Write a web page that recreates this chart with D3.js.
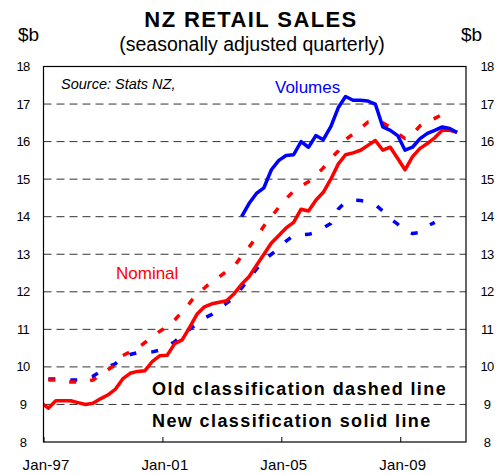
<!DOCTYPE html>
<html>
<head>
<meta charset="utf-8">
<script src="https://cdn.jsdelivr.net/npm/d3@7"></script>
<style>
  body { margin: 0; background: #fff; }
  text { font-family: "Liberation Sans", Arial, sans-serif; }
</style>
</head>
<body>
<div id="wrapper"></div>
<script>
// quarterly observations (end of quarter)
const quarters = [
  "Dec-96",
  "Mar-97", "Jun-97", "Sep-97", "Dec-97",
  "Mar-98", "Jun-98", "Sep-98", "Dec-98",
  "Mar-99", "Jun-99", "Sep-99", "Dec-99",
  "Mar-00", "Jun-00", "Sep-00", "Dec-00",
  "Mar-01", "Jun-01", "Sep-01", "Dec-01",
  "Mar-02", "Jun-02", "Sep-02", "Dec-02",
  "Mar-03", "Jun-03", "Sep-03", "Dec-03",
  "Mar-04", "Jun-04", "Sep-04", "Dec-04",
  "Mar-05", "Jun-05", "Sep-05", "Dec-05",
  "Mar-06", "Jun-06", "Sep-06", "Dec-06",
  "Mar-07", "Jun-07", "Sep-07", "Dec-07",
  "Mar-08", "Jun-08", "Sep-08", "Dec-08",
  "Mar-09", "Jun-09", "Sep-09", "Dec-09",
  "Mar-10", "Jun-10", "Sep-10", "Dec-10"
]

// new classification, nominal ($b)
const nominalNew = [
  9.05,
  8.9, 9.1, 9.1, 9.1,
  9.05, 9.0, 9.03, 9.15,
  9.25, 9.4, 9.68, 9.83,
  9.88, 9.9, 10.15, 10.3,
  10.31, 10.62, 10.72, 11.05,
  11.4, 11.6, 11.68, 11.72,
  11.76, 11.95, 12.2, 12.4,
  12.7, 13.0, 13.3, 13.5,
  13.7, 13.85, 14.2, 14.15,
  14.44, 14.65, 15.0, 15.4,
  15.65, 15.7, 15.77, 15.9,
  16.03, 15.77, 15.85, 15.55,
  15.25, 15.6, 15.82, 15.95,
  16.1, 16.3, 16.3, 16.25
]

// new classification, volumes ($b)
const volumesNew = [
  null,
  null, null, null, null,
  null, null, null, null,
  null, null, null, null,
  null, null, null, null,
  null, null, null, null,
  null, null, null, null,
  null, null, 14.0, 14.35,
  14.62, 14.77, 15.25, 15.5,
  15.63, 15.65, 16.0, 15.85,
  16.16, 16.05, 16.4, 16.9,
  17.2, 17.1, 17.1, 17.08,
  17.0, 16.39, 16.3, 16.16,
  15.77, 15.85, 16.08, 16.22,
  16.3, 16.39, 16.35, 16.24
]

// old classification, nominal ($b)
const nominalOld = [
  null,
  9.65, 9.65, 9.62, 9.6,
  9.6, 9.62, 9.65, 9.78,
  9.92, 10.05, 10.3, 10.4,
  10.5, 10.65, 10.8, 10.95,
  11.07, 11.25, 11.47, 11.7,
  11.95, 12.1, 12.28, 12.4,
  12.55, 12.68, 12.95, 13.19,
  13.45, 13.75, 14.0, 14.25,
  14.48, 14.68, 14.82, 14.93,
  15.1, 15.3, 15.55, 15.75,
  16.05, 16.2, 16.35, 16.52,
  16.55, 16.5, 16.38, 16.22,
  16.08, 16.2, 16.42, 16.55,
  16.62, 16.72, 16.78, null
]

// old classification, volumes ($b)
const volumesOld = [
  null,
  9.68, 9.68, 9.68, 9.65,
  9.65, 9.7, 9.75, 9.88,
  10.0, 10.08, 10.25, 10.33,
  10.38, 10.38, 10.4, 10.45,
  10.55, 10.67, 10.85, 11.0,
  11.15, 11.3, 11.4, 11.55,
  11.7, 11.85, 12.1, 12.35,
  12.6, 12.85, 13.0, 13.15,
  13.35, 13.5, 13.52, 13.53,
  13.58, 13.7, 13.82, 14.2,
  14.4, 14.44, 14.43, 14.4,
  14.32, 14.15, 13.95, 13.8,
  13.6, 13.55, 13.58, 13.75,
  13.85, null, null, null
]

const yTicks = [8, 9, 10, 11, 12, 13, 14, 15, 16, 17, 18]
const xTickLabels = ["Jan-97", "Jan-01", "Jan-05", "Jan-09"]

const parseQuarter = d3.timeParse("%b-%y")
const dates = quarters.map(parseQuarter)

// dimensions
const dimensions = {
  width: 499,
  height: 475,
  margin: { top: 66.5, right: 33, bottom: 33, left: 43.5 },
}
dimensions.boundedWidth = dimensions.width - dimensions.margin.left - dimensions.margin.right
dimensions.boundedHeight = dimensions.height - dimensions.margin.top - dimensions.margin.bottom

const svg = d3.select("#wrapper")
  .append("svg")
  .attr("width", dimensions.width)
  .attr("height", dimensions.height)

const bounds = svg.append("g")
  .attr("transform", `translate(${dimensions.margin.left},${dimensions.margin.top})`)

// scales
const xScale = d3.scaleTime()
  .domain([new Date(1997, 0, 1), new Date(2011, 2, 20)])
  .range([0, dimensions.boundedWidth])

const yScale = d3.scaleLinear()
  .domain([8, 18])
  .range([dimensions.boundedHeight, 0])

// gridlines
bounds.append("g")
  .selectAll("line")
  .data(yTicks.filter(d => d > 8 && d < 18))
  .join("line")
  .attr("x1", 0)
  .attr("x2", dimensions.boundedWidth)
  .attr("y1", d => yScale(d))
  .attr("y2", d => yScale(d))
  .attr("stroke", "#333")
  .attr("stroke-width", 1)
  .attr("stroke-dasharray", "8,5")

// y tick labels, both sides
const yLabelStyle = sel => sel
  .attr("text-anchor", "middle")
  .attr("dy", "0.35em")
  .style("font-size", "13px")
  .style("letter-spacing", "-0.8px")
  .text(d => d)

svg.append("g").selectAll("text")
  .data(yTicks)
  .join("text")
  .attr("x", 23)
  .attr("y", d => dimensions.margin.top + yScale(d))
  .call(yLabelStyle)

svg.append("g").selectAll("text")
  .data(yTicks)
  .join("text")
  .attr("x", 487)
  .attr("y", d => dimensions.margin.top + yScale(d))
  .call(yLabelStyle)

// x axis ticks inside the frame
const xTickDates = xTickLabels.map(parseQuarter)
const xAxisGenerator = d3.axisBottom(xScale)
  .tickValues(xTickDates)
  .tickSize(-5)
  .tickPadding(17)
  .tickFormat(d3.timeFormat("%b-%y"))

const xAxis = bounds.append("g")
  .attr("transform", `translate(0,${dimensions.boundedHeight})`)
  .call(xAxisGenerator)
xAxis.select(".domain").remove()
xAxis.selectAll("line").attr("stroke", "#000")
xAxis.selectAll("text")
  .attr("fill", "#000")
  .attr("dx", 2)
  .style("font-family", "'Liberation Sans', Arial, sans-serif")
  .style("font-size", "15px")
  .style("letter-spacing", "0.2px")

// lines
bounds.append("clipPath")
  .attr("id", "plot-clip")
  .append("rect")
  .attr("width", dimensions.boundedWidth)
  .attr("height", dimensions.boundedHeight)

const lineGen = d3.line()
  .defined(d => d[1] != null)
  .x(d => xScale(d[0]))
  .y(d => yScale(d[1]))

const series = [
  { name: "volumesOld", values: volumesOld, color: "#0000ff", dash: "7,15" },
  { name: "nominalOld", values: nominalOld, color: "#ff0000", dash: "7,14" },
  { name: "nominalNew", values: nominalNew, color: "#ff0000", dash: null },
  { name: "volumesNew", values: volumesNew, color: "#0000ff", dash: null },
]

const linesGroup = bounds.append("g")
  .attr("clip-path", "url(#plot-clip)")

linesGroup.selectAll("path")
  .data(series)
  .join("path")
  .attr("fill", "none")
  .attr("stroke", d => d.color)
  .attr("stroke-width", 3.5)
  .attr("stroke-linejoin", "round")
  .attr("stroke-dasharray", d => d.dash)
  .attr("d", d => lineGen(d.values.map((v, i) => [dates[i], v])))

// frame
bounds.append("rect")
  .attr("width", dimensions.boundedWidth)
  .attr("height", dimensions.boundedHeight)
  .attr("fill", "none")
  .attr("stroke", "#000")
  .attr("stroke-width", 1.2)

// titles
svg.append("text")
  .attr("x", 251)
  .attr("y", 27)
  .attr("text-anchor", "middle")
  .style("font-size", "22px")
  .style("font-weight", "bold")
  .style("letter-spacing", "1.4px")
  .text("NZ RETAIL SALES")

svg.append("text")
  .attr("x", 252)
  .attr("y", 51)
  .attr("text-anchor", "middle")
  .style("font-size", "19.5px")
  .text("(seasonally adjusted quarterly)")

svg.append("text")
  .attr("x", 18)
  .attr("y", 41)
  .style("font-size", "19px")
  .text("$b")

svg.append("text")
  .attr("x", 461)
  .attr("y", 41)
  .style("font-size", "19px")
  .text("$b")

// annotations
svg.append("text")
  .attr("x", 61)
  .attr("y", 89)
  .style("font-size", "14.5px")
  .style("font-style", "italic")
  .text("Source: Stats NZ,")

svg.append("text")
  .attr("x", 275)
  .attr("y", 93)
  .attr("fill", "#0000ff")
  .style("font-size", "17px")
  .text("Volumes")

svg.append("text")
  .attr("x", 116)
  .attr("y", 279)
  .attr("fill", "#ff0000")
  .style("font-size", "17px")
  .text("Nominal")

svg.append("text")
  .attr("x", 152)
  .attr("y", 395)
  .style("font-size", "18px")
  .style("font-weight", "bold")
  .style("letter-spacing", "1.4px")
  .text("Old classification dashed line")

svg.append("text")
  .attr("x", 152)
  .attr("y", 427)
  .style("font-size", "18px")
  .style("font-weight", "bold")
  .style("letter-spacing", "1.4px")
  .text("New classification solid line")
</script>
</body>
</html>
